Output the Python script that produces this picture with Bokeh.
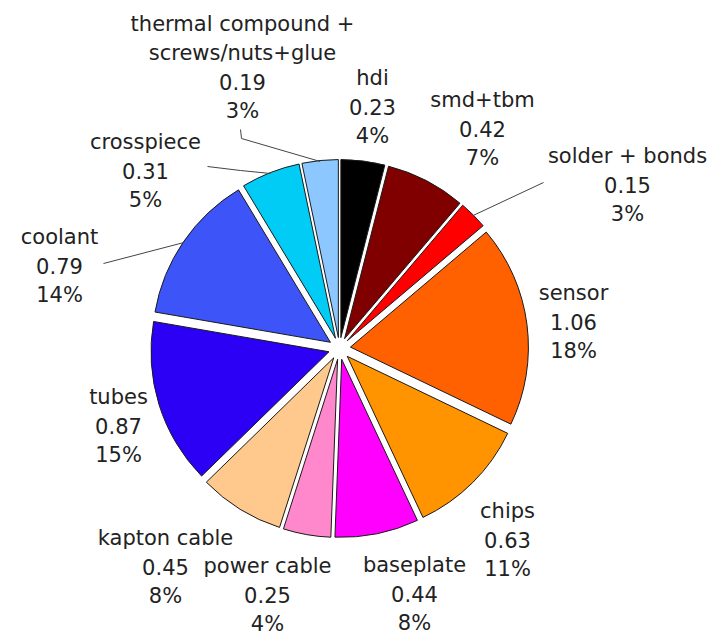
import math

from bokeh.core.properties import value
from bokeh.embed import file_html
from bokeh.models import ColumnDataSource, Range1d
from bokeh.plotting import figure
from bokeh.resources import INLINE

# Module cost breakdown, slices listed clockwise from 12 o'clock
components = [
    "hdi",
    "smd+tbm",
    "solder + bonds",
    "sensor",
    "chips",
    "baseplate",
    "power cable",
    "kapton cable",
    "tubes",
    "coolant",
    "crosspiece",
    "thermal compound +\nscrews/nuts+glue",
]
costs = [0.23, 0.42, 0.15, 1.06, 0.63, 0.44, 0.25, 0.45, 0.87, 0.79, 0.31, 0.19]
slice_colors = [
    "#000000", "#800000", "#ff0000", "#ff6000", "#ff9400", "#ff00ff",
    "#ff88cc", "#ffc88c", "#2b00f5", "#3d55f8", "#00ccf5", "#8cc8ff",
]

# Layout (page pixels, y measured from the top)
W, H = 718, 635
CX, CY = 339, 348
RADIUS = 178
EXPLODE = 11
LINE_STEP = 29
FONT_SIZE = "21px"
# centre x and first-line y of each label block
label_pos = [
    (372, 77), (482, 99), (627, 155), (573, 292), (507, 510), (414, 564),
    (267, 565), (165, 537), (118, 396), (59, 236), (145, 141), (242, 23),
]
# leader lines: starting points near the label, ending on the slice's rim
leader_starts = {
    2: [(543, 182)],
    9: [(103, 263)],
    10: [(207, 166), (240, 170)],
    11: [(240, 129), (241, 138)],
}


def fy(y):
    """page y (from top) -> data y (from bottom)"""
    return H - y


total = sum(costs)
cum = 0.0
wx, wy, sa, ea, cols = [], [], [], [], []
rim_points = []
for v, c in zip(costs, slice_colors):
    a0 = 2 * math.pi * cum / total
    cum += v
    a1 = 2 * math.pi * cum / total
    mid = 0.5 * (a0 + a1)
    ox = CX + EXPLODE * math.sin(mid)
    oy = fy(CY) + EXPLODE * math.cos(mid)
    wx.append(ox)
    wy.append(oy)
    sa.append(math.pi / 2 - a0)
    ea.append(math.pi / 2 - a1)
    cols.append(c)
    rim_points.append((ox + (RADIUS - 1) * math.sin(mid),
                       oy + (RADIUS - 1) * math.cos(mid)))

p = figure(
    width=W, height=H,
    x_range=Range1d(0, W), y_range=Range1d(0, H),
    output_backend="svg", toolbar_location=None,
    min_border=0, outline_line_color=None,
    background_fill_color="white", border_fill_color="white",
)
p.axis.visible = False
p.grid.visible = False

wedges = ColumnDataSource(dict(x=wx, y=wy, start=sa, end=ea, color=cols))
p.wedge(x="x", y="y", radius=RADIUS, start_angle="start", end_angle="end",
        direction="clock", source=wedges, fill_color="color",
        line_color="#1a1a1a", line_width=1)

# leader lines
for idx, pts in leader_starts.items():
    xs = [pt[0] for pt in pts] + [rim_points[idx][0]]
    ys = [fy(pt[1]) for pt in pts] + [rim_points[idx][1]]
    p.line(xs, ys, line_color="#444444", line_width=1)

# labels: name line(s), cost, share
tx, ty, tt = [], [], []
for name, v, (lx, ly) in zip(components, costs, label_pos):
    lines = name.split("\n") + [f"{v:.2f}", f"{round(100 * v / total)}%"]
    for k, s in enumerate(lines):
        tx.append(lx)
        ty.append(fy(ly + k * LINE_STEP))
        tt.append(s)

p.text(x=tx, y=ty, text=tt, text_align="center", text_baseline="middle",
       text_font=value("DejaVu Sans"), text_font_size=FONT_SIZE,
       text_color="#222222")

open("out.html", "w").write(file_html(p, INLINE))
